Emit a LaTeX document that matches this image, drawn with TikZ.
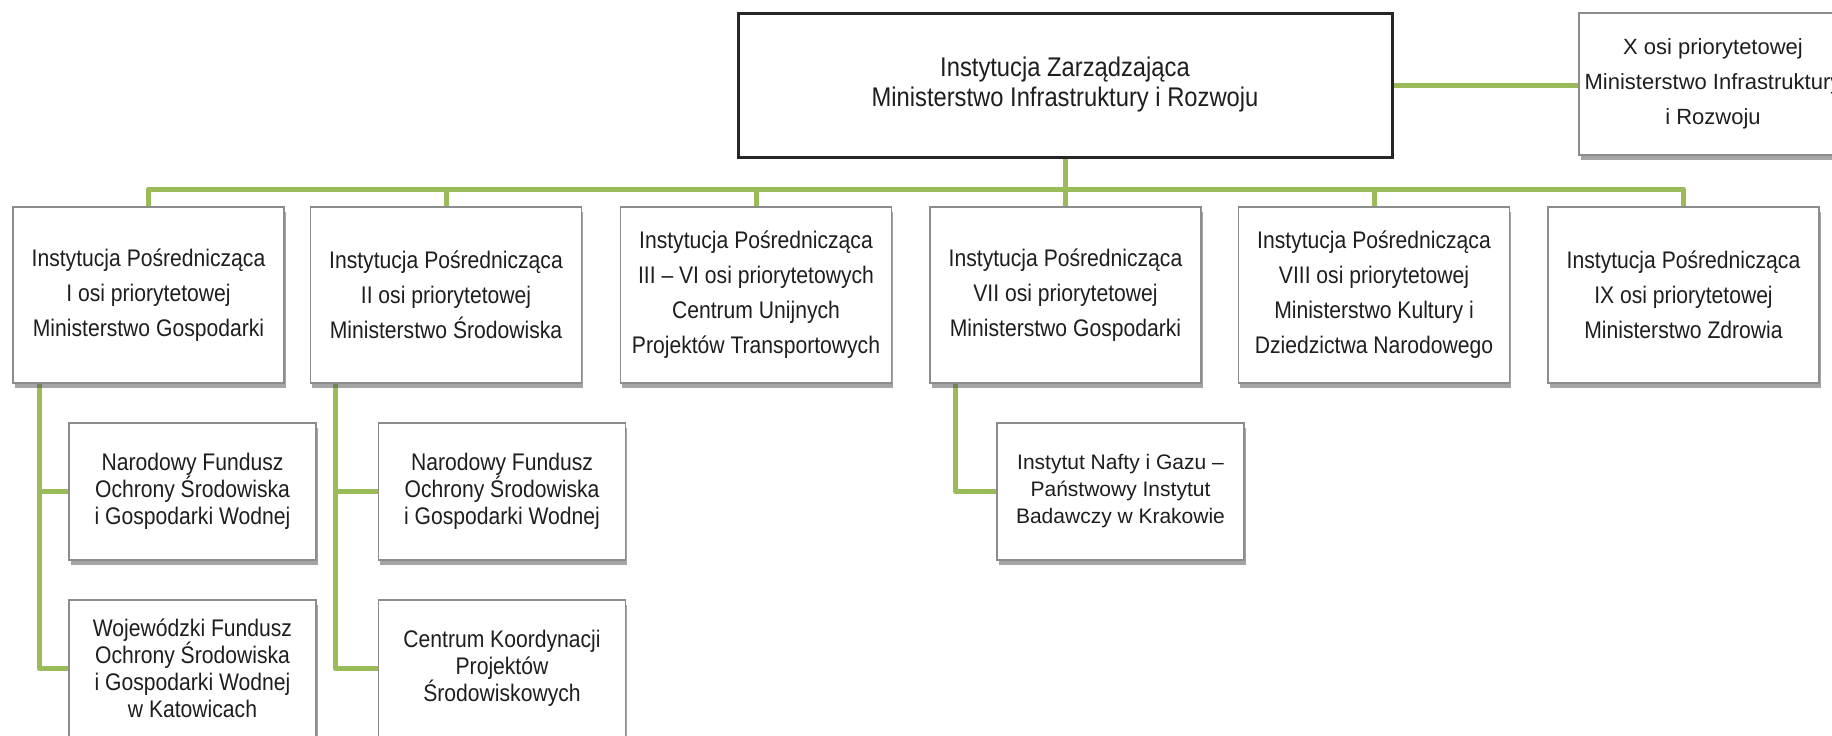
\documentclass[tikz,border=0pt]{standalone}
\usepackage{fontspec}
\setmainfont{Liberation Sans}
\newfontfamily\narrowfont[FakeStretch=0.88]{Liberation Sans}
\usetikzlibrary{shadows,backgrounds}
\definecolor{linegreen}{RGB}{155,187,89}
\definecolor{boxgray}{RGB}{140,140,140}
\definecolor{txt}{RGB}{30,30,30}
\begin{document}
\begin{tikzpicture}[x=1pt,y=-1pt,
  box/.style={draw=boxgray, line width=1.3pt, fill=white, align=center, text=txt,
    inner sep=0pt, minimum width=271pt, minimum height=176pt,
    drop shadow={shadow xshift=1.5pt, shadow yshift=-5pt, opacity=0.5, fill=black!70},
    font=\narrowfont\fontsize{24}{35}\selectfont},
  subbox/.style={box, minimum width=247pt, minimum height=137pt,
    font=\narrowfont\fontsize{24}{27}\selectfont},
  mainbox/.style={draw=black!85, line width=3pt, fill=white, align=center, text=txt,
    inner sep=0pt, minimum width=654pt, minimum height=144pt,
    font=\narrowfont\fontsize{27}{30}\selectfont},
  conn/.style={draw=linegreen, line width=5pt, line join=round}]
\useasboundingbox (0,0) rectangle (1832,736);

\node[mainbox] (top) at (1065,85) {Instytucja Zarządzająca\\Ministerstwo Infrastruktury i Rozwoju};
\node[box, minimum width=268pt, minimum height=142pt, font=\fontsize{22}{35}\selectfont] (xb) at (1713,84)
  {X osi priorytetowej\\Ministerstwo Infrastruktury\\i Rozwoju};

\node[box] (b1) at (148.5,295) {Instytucja Pośrednicząca\\I osi priorytetowej\\Ministerstwo Gospodarki};
\node[box] (b2) at (446,295) {Instytucja Pośrednicząca\\II osi priorytetowej\\Ministerstwo Środowiska};
\node[box] (b3) at (756,295) {Instytucja Pośrednicząca\\III – VI osi priorytetowych\\Centrum Unijnych\\Projektów Transportowych};
\node[box] (b4) at (1065.5,295) {Instytucja Pośrednicząca\\VII osi priorytetowej\\Ministerstwo Gospodarki};
\node[box] (b5) at (1374,295) {Instytucja Pośrednicząca\\VIII osi priorytetowej\\Ministerstwo Kultury i\\Dziedzictwa Narodowego};
\node[box] (b6) at (1683.5,295) {Instytucja Pośrednicząca\\IX osi priorytetowej\\Ministerstwo Zdrowia};

\node[subbox] (nf1) at (192.5,491.5) {Narodowy Fundusz\\Ochrony Środowiska\\i Gospodarki Wodnej};
\node[subbox] (wf) at (192.5,668.5) {Wojewódzki Fundusz\\Ochrony Środowiska\\i Gospodarki Wodnej\\w Katowicach};
\node[subbox] (nf2) at (502,491.5) {Narodowy Fundusz\\Ochrony Środowiska\\i Gospodarki Wodnej};
\node[subbox] (ckp) at (502,668.5) {Centrum Koordynacji\\Projektów\\Środowiskowych};
\node[subbox, font=\fontsize{21}{27}\selectfont] (inig) at (1120.5,491.5) {Instytut Nafty i Gazu –\\Państwowy Instytut\\Badawczy w Krakowie};

\coordinate (busy) at (0,189);
\coordinate (s1) at ([xshift=27pt]b1.south west);
\coordinate (s2) at ([xshift=26pt]b2.south west);
\coordinate (s4) at ([xshift=26pt]b4.south west);

\begin{scope}[on background layer]
  \fill[white] (0,0) rectangle (1832,736);
  \draw[conn] (b1.north) -- (b1.north |- busy) -- (b6.north |- busy) -- (b6.north);
  \draw[conn] (b2.north) -- (b2.north |- busy);
  \draw[conn] (b3.north) -- (b3.north |- busy);
  \draw[conn] (top.south) -- (top.south |- b4.north);
  \draw[conn] (b5.north) -- (b5.north |- busy);
  \draw[conn] (top.east) -- (top.east -| xb.west);
  \draw[conn] (s1) |- (wf.west);
  \draw[conn] (s1 |- nf1.west) -- (nf1.west);
  \draw[conn] (s2) |- (ckp.west);
  \draw[conn] (s2 |- nf2.west) -- (nf2.west);
  \draw[conn] (s4) |- (inig.west);
\end{scope}
\end{tikzpicture}
\end{document}
